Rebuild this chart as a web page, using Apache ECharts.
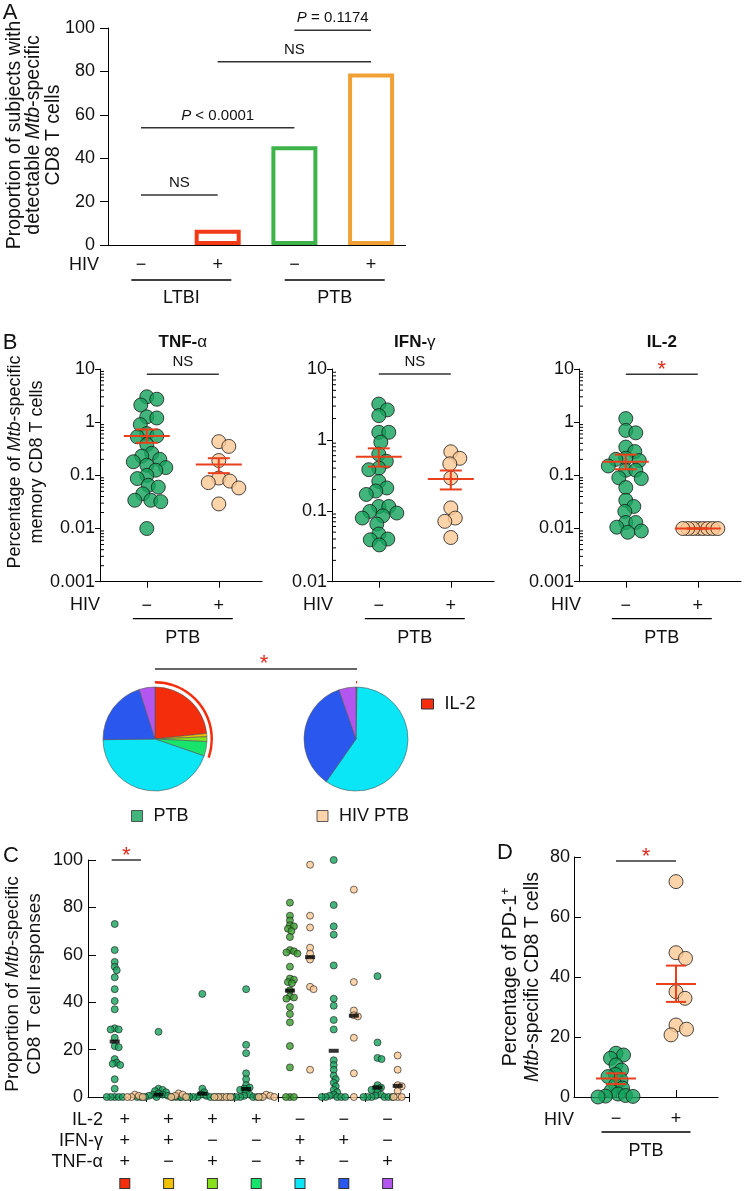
<!DOCTYPE html>
<html><head><meta charset="utf-8">
<script src="https://cdn.jsdelivr.net/npm/echarts@6/dist/echarts.min.js"></script>
<style>html,body{margin:0;padding:0;background:#fff}#c{width:750px;height:1191px}</style>
</head><body><div id="c"></div>
<script>
const FF = '"Liberation Sans", Arial, Helvetica, sans-serif';
const INK = '#111111';
const GREEN = '#13a35b';
const TAN = '#fdc894';
const ERR = '#e8401c';
const STAR = '#e42a1c';
const EDGE = '#1a1a1a';

// ---------- Panel A ----------
const hivSignsA = ['\u2212', '+', '\u2212', '+'];
const propA = [0, 7, 45.5, 79];
const barColorsA = ['#f23a16', '#f23a16', '#3db34a', '#f0a035'];
const sigA = [[0, 1, 23], [0, 2, 54], [1, 3, 84.5], [2, 3, 99]];
const sigALabels = ['NS', '{i|P} < 0.0001', 'NS', '{i|P} = 0.1174'];
const groupsA = [[0, 1, 0], [2, 3, 0]];
const groupLabelsA = ['LTBI', 'PTB'];

// ---------- Panel B ----------
const hivSignsB = ['\u2212', '+'];
const tnfPTB = [3.0, 2.7, 2.1, 1.26, 1.2, 0.9, 0.61, 0.55, 0.53, 0.38, 0.26, 0.23, 0.2, 0.18, 0.155, 0.14, 0.125, 0.1, 0.087, 0.065, 0.06, 0.045, 0.034, 0.032, 0.034, 0.01];
const tnfHIV = [0.43, 0.35, 0.19, 0.089, 0.078, 0.073, 0.058, 0.029];
const tnfMean = [0.55, 0.16], tnfLo = [0.41, 0.11], tnfHi = [0.73, 0.21];
const ifnPTB = [3.2, 2.65, 2.2, 1.28, 1.28, 0.93, 0.63, 0.5, 0.4, 0.38, 0.26, 0.21, 0.19, 0.17, 0.115, 0.115, 0.098, 0.093, 0.085, 0.079, 0.065, 0.047, 0.04, 0.039, 0.033];
const ifnHIV = [0.68, 0.55, 0.46, 0.29, 0.11, 0.079, 0.071, 0.042];
const ifnMean = [0.58, 0.28], ifnLo = [0.42, 0.2], ifnHi = [0.76, 0.37];
const il2PTB = [1.17, 0.7, 0.63, 0.34, 0.28, 0.21, 0.2, 0.19, 0.15, 0.125, 0.125, 0.09, 0.087, 0.059, 0.034, 0.026, 0.021, 0.013, 0.013, 0.0106, 0.009, 0.0085];
const il2HIV = [0.01, 0.01, 0.01, 0.01, 0.01, 0.01, 0.01, 0.01];
const il2Mean = [0.18, 0.01], il2Lo = [0.13, 0.01], il2Hi = [0.245, 0.01];
const sigB = [[[1, 2, 8]], [[1, 2, 8.5]], [[1, 2, 8]]];
const sigBLabels = [['NS'], ['NS'], ['*']];
const titlesB = [['TNF-', '\u03b1'], ['IFN-', '\u03b3'], ['IL-2', '']];
const logMinorMult = [2, 3, 4, 5, 6, 7, 8, 9];

// ---------- Pies ----------
const funcNames = ['IL-2+IFN-\u03b3+TNF-\u03b1+', 'IL-2+IFN-\u03b3+', 'IL-2+TNF-\u03b1+', 'IL-2+', 'IFN-\u03b3+TNF-\u03b1+', 'IFN-\u03b3+', 'TNF-\u03b1+'];
const funcColors = ['#f42d0c', '#f2c200', '#86e01c', '#18e46c', '#0ae6f6', '#2a58ee', '#b356f0'];
const piePTB = [23.3, 1, 1.5, 4.5, 44.5, 20.3, 4.9];
const pieHIV = [0.3, 0, 0, 0, 59.4, 35, 5.3];

// ---------- Panel C ----------
const il2Signs = ['+', '+', '+', '+', '\u2212', '\u2212', '\u2212'];
const ifnSigns = ['+', '+', '\u2212', '\u2212', '+', '+', '\u2212'];
const tnfSigns = ['+', '\u2212', '+', '\u2212', '+', '\u2212', '+'];
const cPTB = [
  [73, 62, 57, 55, 53.5, 50.5, 45.5, 40.5, 37, 29, 28.5, 28.5, 25, 21.5, 21, 16, 14.5, 14, 13.5, 7.5, 3.5, 0, 0, 0, 0, 0],
  [27.5, 3.5, 3, 2.5, 2, 1.5, 1, 1, 0.5, 0.5, 0, 0, 0, 0, 0, 0, 0],
  [43.5, 3.5, 2, 1, 0.5, 0, 0, 0, 0, 0, 0, 0, 0, 0],
  [45.5, 22, 18.5, 10, 7.5, 5, 4, 3.5, 3, 2, 1, 0.5, 0, 0, 0, 0, 0, 0, 0],
  [82, 76.5, 74.5, 72.5, 72, 71, 70, 67.5, 62, 61.5, 61, 60.5, 55, 50, 49.5, 48.5, 48, 45, 42.5, 42, 41.5, 38, 35, 31.5, 21.5, 12.5, 0, 0, 0],
  [100, 81, 72, 68.5, 55.5, 41.5, 38.5, 32.5, 28.5, 15.5, 13.5, 11.5, 9, 7.5, 6, 4.5, 3, 2, 1, 0.5, 0, 0, 0, 0, 0],
  [51, 23, 16.5, 16, 5, 4, 3.5, 3, 2, 1, 0.5, 0, 0, 0, 0, 0, 0]
];
const cHIV = [
  [1, 0.5, 0, 0, 0],
  [1.5, 1, 0.5, 0, 0],
  [0, 0, 0, 0, 0],
  [1, 0.5, 0, 0, 0],
  [98, 76.5, 71.5, 63, 60.5, 58, 46.5, 45.5, 11.5],
  [87.5, 48.5, 36.5, 34.5, 34, 25, 10, 0],
  [17.5, 11.5, 5, 4.5, 2.5, 0, 0, 0]
];
const cMedPTB = [23.4, 1, 1.4, 3.4, 44.9, 19.5, 4];
const cMedHIV = [null, null, null, null, 59, 34.3, 4.7];
const cGreens = ['#17a35e', '#17a35e', '#17a35e', '#17a35e', '#3a9c2e', '#17a35e', '#17a35e'];
const sigC = [[0.2, 0.87, 100]];
const sigCLabels = ['*'];

// ---------- Panel D ----------
const pd1PTB = [14.6, 14, 12.9, 10.7, 9, 7.5, 6.8, 5.7, 4, 3, 2, 1, 0.5, 0.3, 0.2, 0];
const pd1HIV = [71.8, 48.1, 46.2, 35.1, 32.9, 24, 22.6, 20.7];
const pd1Mean = [6.2, 37.7], pd1Lo = [4.3, 31.7], pd1Hi = [7.9, 43.8];
const sigD = [[1, 2, 78.7]];
const sigDLabels = ['*'];

// ---------- layout ----------
const G = {
  A: {left: 108, top: 28, width: 297.6, height: 217},
  B1: {left: 100, top: 369, width: 162, height: 212.7},
  B2: {left: 332, top: 369, width: 162, height: 212.7},
  B3: {left: 579, top: 369, width: 162, height: 212.7},
  C: {left: 88, top: 860, width: 321.5, height: 237},
  D: {left: 574, top: 857, width: 144, height: 240}
};
const XB = {min: 0.35, max: 2.6};
const XC = {min: -0.34, max: 7};
const XD = {min: 0.3, max: 2.7};
const XA = {min: -0.43, max: 3.45};

const chart = echarts.init(document.getElementById('c'));

const lineBlack = {color: '#000', width: 1};
function yAxisBase(extra) {
  return Object.assign({
    axisLine: {show: true, onZero: false, lineStyle: lineBlack},
    axisTick: {show: true, inside: false, length: 5, lineStyle: lineBlack},
    axisLabel: {color: INK, fontFamily: FF, fontSize: 18, margin: 6},
    splitLine: {show: false}
  }, extra);
}

function richSet(size) {
  return {
    i: {fontStyle: 'italic', fontSize: size, fontFamily: FF, fill: INK},
    n: {fontSize: size, fontFamily: FF, fill: INK}
  };
}

function sigRender(labels, size) {
  return function (params, api) {
    const lab = labels[params.dataIndex];
    const y = api.value(2);
    const p1 = api.coord([api.value(0), y]);
    const p2 = api.coord([api.value(1), y]);
    const star = lab === '*';
    return {
      type: 'group', children: [
        {type: 'line', shape: {x1: p1[0], y1: p1[1], x2: p2[0], y2: p2[1]}, style: {stroke: '#333', lineWidth: 1.5}},
        {type: 'text', x: (p1[0] + p2[0]) / 2, y: p1[1] - (star ? 4 : 12),
          style: {text: lab, fill: star ? STAR : INK, fontSize: star ? 22 : size, fontFamily: FF,
            align: 'center', verticalAlign: 'middle', rich: richSet(size)}}
      ]
    };
  };
}

function errRender(halfW, capW) {
  return function (params, api) {
    const x = api.value(0);
    const m = api.coord([x, api.value(1)]);
    const lo = api.coord([x, api.value(2)]);
    const hi = api.coord([x, api.value(3)]);
    const st = {stroke: ERR, lineWidth: 2};
    return {
      type: 'group', children: [
        {type: 'line', shape: {x1: m[0] - halfW, y1: m[1], x2: m[0] + halfW, y2: m[1]}, style: st},
        {type: 'line', shape: {x1: m[0], y1: lo[1], x2: m[0], y2: hi[1]}, style: st},
        {type: 'line', shape: {x1: m[0] - capW, y1: lo[1], x2: m[0] + capW, y2: lo[1]}, style: st},
        {type: 'line', shape: {x1: m[0] - capW, y1: hi[1], x2: m[0] + capW, y2: hi[1]}, style: st}
      ]
    };
  };
}

function underlineRender(labels, o) {
  return function (params, api) {
    const a = api.coord([api.value(0), api.value(2)]);
    const b = api.coord([api.value(1), api.value(2)]);
    const mid = (a[0] + b[0]) / 2 + (o.shift || 0);
    return {
      type: 'group', children: [
        {type: 'line', shape: {x1: mid - o.half, y1: a[1] + o.lineDy, x2: mid + o.half, y2: a[1] + o.lineDy}, style: {stroke: '#000', lineWidth: 1.3}},
        {type: 'text', x: mid, y: a[1] + o.textDy, style: {text: labels[params.dataIndex], fill: INK, fontSize: 18, fontFamily: FF, align: 'center', verticalAlign: 'middle'}}
      ]
    };
  };
}

function minorRender(len) {
  return function (params, api) {
    const p = api.coord([api.value(0), api.value(1)]);
    return {type: 'line', shape: {x1: p[0], y1: p[1], x2: p[0] + len, y2: p[1]}, style: {stroke: '#000', lineWidth: 1}};
  };
}

function minorData(expLo, expHi) {
  const out = [];
  for (let e = expLo; e <= expHi; e++) logMinorMult.forEach(m => out.push([XB.min, +(m * Math.pow(10, e)).toPrecision(3)]));
  return out;
}

const logFmt = v => String(+Number(v).toPrecision(2));

// ---------- axes ----------
const xAxis = [
  {type: 'value', gridIndex: 0, min: XA.min, max: XA.max, position: 'bottom',
    axisLine: {show: true, onZero: false, lineStyle: lineBlack}, axisTick: {show: false}, splitLine: {show: false},
    axisLabel: {customValues: [0, 1, 2, 3], formatter: v => hivSignsA[Math.round(v)], color: INK, fontFamily: FF, fontSize: 18, margin: 11}},
];
[1, 2, 3].forEach(k => xAxis.push({
  type: 'value', gridIndex: k, min: XB.min, max: XB.max, position: 'bottom',
  axisLine: {show: true, onZero: false, lineStyle: lineBlack}, splitLine: {show: false},
  axisTick: {show: true, customValues: [1, 2], length: 6, lineStyle: lineBlack},
  axisLabel: {customValues: [1, 2], formatter: v => hivSignsB[Math.round(v) - 1], color: INK, fontFamily: FF, fontSize: 18, margin: 15}
}));
const boundsC = [1, 2, 3, 4, 5, 6, 7];
const richC = {t: {fontSize: 18, fontFamily: FF, color: INK, lineHeight: 21}};
funcColors.forEach((c, i) => { richC['s' + i] = {width: 9, height: 9, backgroundColor: c, borderColor: '#333', borderWidth: 1, lineHeight: 21, fontSize: 8}; });
xAxis.push({
  type: 'value', gridIndex: 4, min: XC.min, max: XC.max, position: 'bottom',
  axisLine: {show: true, onZero: false, lineStyle: lineBlack}, splitLine: {show: false},
  axisTick: {show: true, customValues: boundsC, length: 5, lineStyle: lineBlack},
  axisLabel: {customValues: funcNames.map((_, i) => i + 0.5), margin: 13, lineHeight: 21,
    formatter: v => { const i = Math.round(v - 0.5); return '{t|' + il2Signs[i] + '}\n{t|' + ifnSigns[i] + '}\n{t|' + tnfSigns[i] + '}\n{s' + i + '| }'; },
    rich: richC}
});
xAxis.push({
  type: 'value', gridIndex: 4, min: XC.min, max: XC.max, position: 'bottom',
  axisLine: {show: false}, axisLabel: {show: false}, splitLine: {show: false},
  axisTick: {show: true, inside: true, customValues: boundsC, length: 4, lineStyle: lineBlack}
});
xAxis.push({
  type: 'value', gridIndex: 5, min: XD.min, max: XD.max, position: 'bottom',
  axisLine: {show: true, onZero: false, lineStyle: lineBlack}, splitLine: {show: false},
  axisTick: {show: true, inside: true, customValues: [1, 2], length: 7, lineStyle: lineBlack},
  axisLabel: {customValues: [1, 2], formatter: v => hivSignsB[Math.round(v) - 1], color: INK, fontFamily: FF, fontSize: 18, margin: 13}
});

const yAxis = [
  yAxisBase({type: 'value', gridIndex: 0, min: 0, max: 100, interval: 20,
    axisTick: {show: true, length: 8, lineStyle: lineBlack}, axisLabel: {color: INK, fontFamily: FF, fontSize: 18, margin: 13}}),
  yAxisBase({type: 'log', logBase: 10, gridIndex: 1, min: 0.001, max: 10, axisLabel: {formatter: logFmt, color: INK, fontFamily: FF, fontSize: 18, margin: 5}}),
  yAxisBase({type: 'log', logBase: 10, gridIndex: 2, min: 0.01, max: 10, axisLabel: {formatter: logFmt, color: INK, fontFamily: FF, fontSize: 18, margin: 5}}),
  yAxisBase({type: 'log', logBase: 10, gridIndex: 3, min: 0.001, max: 10, axisLabel: {formatter: logFmt, color: INK, fontFamily: FF, fontSize: 18, margin: 5}}),
  yAxisBase({type: 'value', gridIndex: 4, min: 0, max: 100, interval: 20,
    axisTick: {show: true, inside: true, length: 8, lineStyle: lineBlack}, axisLabel: {color: INK, fontFamily: FF, fontSize: 18, margin: 5}}),
  yAxisBase({type: 'value', gridIndex: 5, min: 0, max: 80, interval: 20,
    axisTick: {show: true, inside: true, length: 7, lineStyle: lineBlack}, axisLabel: {color: INK, fontFamily: FF, fontSize: 18, margin: 4}})
];

const grid = ['A', 'B1', 'B2', 'B3', 'C', 'D'].map(k => Object.assign({outerBoundsMode: 'none', containLabel: false}, G[k]));

// ---------- swarms ----------
const swarmDefs = [
  {id: 'b1p', name: 'PTB', x: 1, y: 1, color: GREEN, size: 14, minDist: 10, groups: [{cx: 1, vals: tnfPTB}]},
  {id: 'b1h', name: 'HIV PTB', x: 1, y: 1, color: TAN, size: 14, minDist: 11, groups: [{cx: 2, vals: tnfHIV}]},
  {id: 'b2p', name: 'PTB', x: 2, y: 2, color: GREEN, size: 14, minDist: 10, groups: [{cx: 1, vals: ifnPTB}]},
  {id: 'b2h', name: 'HIV PTB', x: 2, y: 2, color: TAN, size: 14, minDist: 11, groups: [{cx: 2, vals: ifnHIV}]},
  {id: 'b3p', name: 'PTB', x: 3, y: 3, color: GREEN, size: 14, minDist: 10, groups: [{cx: 1, vals: il2PTB}]},
  {id: 'b3h', name: 'HIV PTB', x: 3, y: 3, color: TAN, size: 14, minDist: 5, groups: [{cx: 2, vals: il2HIV}]},
  {id: 'cp', name: 'PTB', x: 4, y: 4, color: GREEN, colors: cGreens, size: 7, minDist: 4, groups: cPTB.map((vals, i) => ({cx: i + 0.5 - 0.23, vals}))},
  {id: 'ch', name: 'HIV PTB', x: 4, y: 4, color: TAN, size: 7, minDist: 4, groups: cHIV.map((vals, i) => ({cx: i + 0.5 + 0.23, vals}))},
  {id: 'dp', name: 'PTB', x: 6, y: 5, color: GREEN, size: 14, minDist: 7.5, groups: [{cx: 1, vals: pd1PTB}]},
  {id: 'dh', name: 'HIV PTB', x: 6, y: 5, color: TAN, size: 14, minDist: 11, groups: [{cx: 2, vals: pd1HIV}]}
];
function swarmItem(def, gi, xy) {
  const c = def.colors ? def.colors[gi] : def.color;
  return {value: xy, itemStyle: {color: c}};
}
const series = [];
swarmDefs.forEach(def => {
  const data = [];
  def.groups.forEach((g, gi) => g.vals.forEach(v => data.push(swarmItem(def, gi, [g.cx, v]))));
  series.push({type: 'scatter', id: def.id, name: def.name, xAxisIndex: def.x, yAxisIndex: def.y,
    symbolSize: def.size, silent: true, z: 3, animation: false,
    itemStyle: {color: def.color, borderColor: EDGE, borderWidth: def.size > 10 ? 1 : 0.8}, data});
});

// bars A
series.push({type: 'bar', name: 'A', xAxisIndex: 0, yAxisIndex: 0, barWidth: 46, silent: true, z: 2,
  data: propA.map((v, i) => ({value: [i, v], itemStyle: {color: '#fff', borderColor: barColorsA[i], borderWidth: v > 0 ? 4 : 0}}))});
series.push({type: 'custom', xAxisIndex: 0, yAxisIndex: 0, encode: {x: [0, 1], y: 2}, data: sigA, renderItem: sigRender(sigALabels, 15), silent: true});
series.push({type: 'custom', xAxisIndex: 0, yAxisIndex: 0, encode: {x: [0, 1], y: 2}, data: groupsA, renderItem: underlineRender(groupLabelsA, {half: 50, shift: 2, lineDy: 35, textDy: 53}), silent: true});

// B panels
const meansB = [[tnfMean, tnfLo, tnfHi], [ifnMean, ifnLo, ifnHi], [il2Mean, il2Lo, il2Hi]];
const minorB = [minorData(-3, 0), minorData(-2, 0), minorData(-3, 0)];
[0, 1, 2].forEach(k => {
  const ax = k + 1;
  const [m, lo, hi] = meansB[k];
  series.push({type: 'custom', xAxisIndex: ax, yAxisIndex: ax, z: 4, silent: true, encode: {x: 0, y: 1},
    data: m.map((v, i) => [i + 1, v, lo[i], hi[i]]), renderItem: errRender(23, 11)});
  series.push({type: 'custom', xAxisIndex: ax, yAxisIndex: ax, z: 1, silent: true, encode: {x: 0, y: 1},
    data: minorB[k], renderItem: minorRender(4)});
  series.push({type: 'custom', xAxisIndex: ax, yAxisIndex: ax, silent: true, encode: {x: [0, 1], y: 2},
    data: sigB[k], renderItem: sigRender(sigBLabels[k], 15)});
  series.push({type: 'custom', xAxisIndex: ax, yAxisIndex: ax, silent: true, encode: {x: [0, 1], y: 2},
    data: [[1, 2, k === 1 ? 0.01 : 0.001]], renderItem: underlineRender(['PTB'], {half: 50, lineDy: 37, textDy: 56})});
});

// C
const medData = [];
cMedPTB.forEach((v, i) => { if (v !== null) medData.push([i + 0.5 - 0.23, v]); });
cMedHIV.forEach((v, i) => { if (v !== null) medData.push([i + 0.5 + 0.23, v]); });
series.push({type: 'scatter', name: 'median', xAxisIndex: 4, yAxisIndex: 4, symbol: 'rect', symbolSize: [10, 4], z: 5, silent: true,
  itemStyle: {color: '#000'}, data: medData});
series.push({type: 'custom', xAxisIndex: 4, yAxisIndex: 4, silent: true, encode: {x: [0, 1], y: 2}, data: sigC, renderItem: sigRender(sigCLabels, 15)});

// D
series.push({type: 'custom', xAxisIndex: 6, yAxisIndex: 5, z: 4, silent: true, encode: {x: 0, y: 1},
  data: pd1Mean.map((v, i) => [i + 1, v, pd1Lo[i], pd1Hi[i]]), renderItem: errRender(20, 10)});
series.push({type: 'custom', xAxisIndex: 6, yAxisIndex: 5, silent: true, encode: {x: [0, 1], y: 2}, data: sigD, renderItem: sigRender(sigDLabels, 15)});
series.push({type: 'custom', xAxisIndex: 6, yAxisIndex: 5, silent: true, encode: {x: [0, 1], y: 2},
  data: [[1, 2, 0]], renderItem: underlineRender(['PTB'], {half: 44.5, lineDy: 35, textDy: 54})});

// pies
const pieCenters = [[155, 739], [356, 739]];
[piePTB, pieHIV].forEach((vals, p) => {
  const data = [];
  vals.forEach((v, i) => { if (v > 0) data.push({name: funcNames[i], value: v, itemStyle: {color: funcColors[i]}}); });
  series.push({type: 'pie', center: pieCenters[p], radius: 52, startAngle: 90, clockwise: true, silent: true, animation: false,
    label: {show: false}, labelLine: {show: false}, emphasis: {disabled: true},
    itemStyle: {borderColor: '#555', borderWidth: 0.6}, data});
  const total = vals.reduce((a, b) => a + b, 0);
  const il2 = vals.reduce((a, v, i) => a + (il2Signs[i] === '+' ? v : 0), 0);
  series.push({type: 'pie', center: pieCenters[p], radius: [55.5, 58], startAngle: 90, clockwise: true, silent: true, animation: false,
    label: {show: false}, labelLine: {show: false}, emphasis: {disabled: true}, itemStyle: {borderWidth: 0},
    data: [{name: 'IL-2', value: il2, itemStyle: {color: funcColors[0]}}, {name: 'other', value: total - il2, itemStyle: {color: 'rgba(0,0,0,0)'}}]});
});

// ---------- graphic texts ----------
function txt(x, y, text, o) {
  o = o || {};
  return {type: 'text', x, y, silent: true, rotation: o.rot || 0,
    style: {text, fill: o.fill || INK, fontSize: o.size || 18, fontFamily: FF, fontWeight: o.weight || 'normal',
      align: o.align || 'center', verticalAlign: 'middle', lineHeight: o.lh, rich: o.rich}};
}
function yName(cx, cy, lines, size, lh) {
  return txt(cx, cy, lines.join('\n'), {rot: Math.PI / 2, size, lh, rich: {
    n: {fontSize: size, fontFamily: FF, fill: INK, lineHeight: lh},
    i: {fontSize: size, fontFamily: FF, fill: INK, fontStyle: 'italic', lineHeight: lh},
    sup: {fontSize: Math.round(size * 0.62), fontFamily: FF, fill: INK, lineHeight: lh, verticalAlign: 'top'}
  }});
}
const titleRich = {b: {fontSize: 17, fontFamily: FF, fontWeight: 'bold', fill: INK}, g: {fontSize: 17, fontFamily: FF, fill: INK}};
const graphic = [
  txt(10, 13, 'A', {size: 22}), txt(10, 343, 'B', {size: 22}), txt(11, 856, 'C', {size: 22}), txt(505, 853, 'D', {size: 22}),
  yName(34, 135, ['{n|Proportion of subjects with}', '{n|detectable }{i|Mtb}{n|-specific}', '{n|CD8 T cells}'], 19.5, 19.5),
  yName(26, 462, ['{n|Percentage of }{i|Mtb}{n|-specific}', '{n|memory CD8 T cells}'], 18, 22),
  yName(24, 984, ['{n|Proportion of }{i|Mtb}{n|-specific}', '{n|CD8 T cell responses}'], 19, 22),
  yName(522, 977, ['{n|Percentage of PD-1}{sup|+}', '{i|Mtb}{n|-specific CD8 T cells}'], 19.5, 22),
  txt(99, G.A.top + G.A.height + 20, 'HIV', {align: 'right'}),
  txt(G.B1.left, G.B1.top + G.B1.height + 23, 'HIV', {align: 'right'}),
  txt(G.B2.left + 1, G.B2.top + G.B2.height + 23, 'HIV', {align: 'right'}),
  txt(G.B3.left + 2, G.B3.top + G.B3.height + 23, 'HIV', {align: 'right'}),
  txt(G.D.left, G.D.top + G.D.height + 23, 'HIV', {align: 'right'}),
  txt(103, 1120, 'IL-2', {align: 'right'}), txt(103, 1141, 'IFN-\u03b3', {align: 'right'}), txt(103, 1162, 'TNF-\u03b1', {align: 'right'}),
  {type: 'line', silent: true, shape: {x1: pieCenters[0][0], y1: 669, x2: pieCenters[1][0] + 1, y2: 669}, style: {stroke: '#333', lineWidth: 1.5}},
  txt(264, 664, '*', {size: 22, fill: STAR})
];
[G.B1, G.B2, G.B3].forEach((g, k) => {
  const mid = g.left + ((1 + 2) / 2 - XB.min) / (XB.max - XB.min) * g.width;
  graphic.push(txt(mid, 342, '{b|' + titlesB[k][0] + '}{g|' + titlesB[k][1] + '}', {rich: titleRich}));
});

const legend = [
  {data: ['PTB', 'HIV PTB'], left: 126, top: 802, orient: 'horizontal', itemWidth: 11, itemHeight: 11, itemGap: 128, icon: 'rect',
    selectedMode: false, textStyle: {fontSize: 18, fontFamily: FF, color: INK, padding: [0, 0, 0, 6]}, itemStyle: {borderColor: '#333', borderWidth: 1}},
  {data: ['IL-2'], left: 416, top: 690, itemWidth: 12, itemHeight: 10, icon: 'rect', selectedMode: false,
    textStyle: {fontSize: 18, fontFamily: FF, color: INK, padding: [0, 0, 0, 6]}, itemStyle: {borderColor: '#333', borderWidth: 1}}
];

chart.setOption({animation: false, backgroundColor: '#fff', textStyle: {fontFamily: FF},
  grid, xAxis, yAxis, series, graphic, legend});

// ---------- beeswarm placement through the axes' own scales ----------
function swarmOffsets(ys, minDist, step) {
  const order = ys.map((y, i) => i).sort((a, b) => ys[a] - ys[b]);
  const placed = [];
  const offs = new Array(ys.length).fill(0);
  order.forEach(i => {
    for (let k = 0; k < 600; k++) {
      const o = (k % 2 === 1 ? 1 : -1) * Math.ceil(k / 2) * step;
      let ok = true;
      for (const p of placed) {
        const dx = o - p.x, dy = ys[i] - p.y;
        if (dx * dx + dy * dy < minDist * minDist) { ok = false; break; }
      }
      if (ok) { offs[i] = o; placed.push({x: o, y: ys[i]}); break; }
    }
  });
  return offs;
}
const updates = swarmDefs.map(def => {
  const data = [];
  def.groups.forEach((g, gi) => {
    const p0 = chart.convertToPixel({xAxisIndex: def.x}, g.cx);
    const unit = chart.convertToPixel({xAxisIndex: def.x}, g.cx + 1) - p0;
    const ys = g.vals.map(v => chart.convertToPixel({yAxisIndex: def.y}, v));
    const offs = swarmOffsets(ys, def.minDist, 0.5);
    g.vals.forEach((v, i) => data.push(swarmItem(def, gi, [g.cx + offs[i] / unit, v])));
  });
  return {id: def.id, data};
});
chart.setOption({series: updates});
</script></body></html>
